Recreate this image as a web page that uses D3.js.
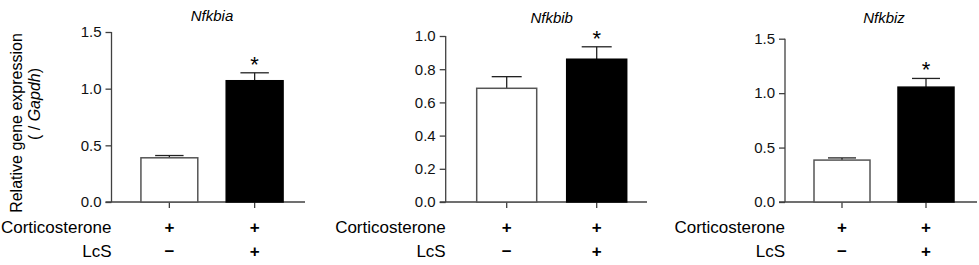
<!DOCTYPE html>
<html>
<head>
<meta charset="utf-8">
<script src="https://cdn.jsdelivr.net/npm/d3@7"></script>
<style>
  body { margin: 0; background: #fff; }
  svg { display: block; font-family: Arial, "Liberation Sans", sans-serif; }
  .axis path, .axis line { stroke: #404040; stroke-width: 1.3; }
  .axis text { font-size: 15px; fill: #111; }
</style>
</head>
<body>
<div id="chart"></div>
<script>
// ====== Relative gene expression, three panels ======

// genes shown, one per panel
var genes = ['Nfkbia', 'Nfkbib', 'Nfkbiz'];
var groups = ['Cort', 'Cort+LcS'];

// bar heights (mean) and upward error (SEM), per gene
var means = [[0.39, 1.07], [0.685, 0.86], [0.385, 1.055]];
var sems = [[0.02, 0.07], [0.07, 0.075], [0.02, 0.08]];

// axis ranges and ticks, per gene
var yMax = [1.5, 1.0, 1.5];
var yTicks = [[0, 0.5, 1.0, 1.5], [0, 0.2, 0.4, 0.6, 0.8, 1.0], [0, 0.5, 1.0, 1.5]];

// treatment rows under the bars
var cortRow = ['+', '+'];
var lcsRow = ['\u2212', '+'];
var signif = [false, true];

var width = 979, height = 265;

// panel geometry (pixels)
var panels = [
  { axisX: 111.5, top: 32, bottom: 202, span: 200, axisEnd: 305, titleY: 21 },
  { axisX: 445.7, top: 36, bottom: 202, span: 211, axisEnd: 647, titleY: 23 },
  { axisX: 785, top: 38.7, bottom: 202, span: 197, axisEnd: 977, titleY: 23 }
];

var svg = d3.select('#chart').append('svg')
  .attr('width', width)
  .attr('height', height);

genes.forEach(function(gene, gi) {
  var p = panels[gi];

  var y = d3.scaleLinear().domain([0, yMax[gi]]).range([p.bottom, p.top]);
  var x = d3.scaleBand().domain(groups)
    .range([p.axisX + 1, p.axisX + p.span])
    .paddingInner(1 / 3).paddingOuter(1 / 3);

  var g = svg.append('g').attr('class', 'panel');

  // y axis
  g.append('g')
    .attr('class', 'axis')
    .attr('transform', 'translate(' + p.axisX + ',0)')
    .call(d3.axisLeft(y).tickValues(yTicks[gi]).tickFormat(d3.format('.1f'))
      .tickSize(6).tickSizeOuter(0).tickPadding(4))
    .select('.domain').remove();

  g.append('line')
    .attr('x1', p.axisX).attr('x2', p.axisX)
    .attr('y1', p.top).attr('y2', p.bottom)
    .attr('stroke', '#404040').attr('stroke-width', 1.3);

  // x axis with ticks at the bar centres
  g.append('line')
    .attr('x1', p.axisX - 6).attr('x2', p.axisEnd)
    .attr('y1', p.bottom).attr('y2', p.bottom)
    .attr('stroke', '#404040').attr('stroke-width', 1.3);

  g.selectAll('.xtick')
    .data(groups)
    .enter().append('line')
    .attr('class', 'xtick')
    .attr('x1', function(d) { return x(d) + x.bandwidth() / 2; })
    .attr('x2', function(d) { return x(d) + x.bandwidth() / 2; })
    .attr('y1', p.bottom).attr('y2', p.bottom + 6)
    .attr('stroke', '#404040').attr('stroke-width', 1.3);

  var rows = groups.map(function(grp, i) {
    return { group: grp, mean: means[gi][i], sem: sems[gi][i], i: i };
  });

  // error bars (upward only)
  var err = g.selectAll('.err')
    .data(rows)
    .enter().append('g')
    .attr('class', 'err');

  err.append('line')
    .attr('x1', function(d) { return x(d.group) + x.bandwidth() / 2; })
    .attr('x2', function(d) { return x(d.group) + x.bandwidth() / 2; })
    .attr('y1', function(d) { return y(d.mean); })
    .attr('y2', function(d) { return y(d.mean + d.sem); })
    .attr('stroke', '#222').attr('stroke-width', 1.3);

  err.append('line')
    .attr('x1', function(d) { return x(d.group) + x.bandwidth() / 4; })
    .attr('x2', function(d) { return x(d.group) + x.bandwidth() * 3 / 4; })
    .attr('y1', function(d) { return y(d.mean + d.sem); })
    .attr('y2', function(d) { return y(d.mean + d.sem); })
    .attr('stroke', '#222').attr('stroke-width', 1.3);

  // bars
  g.selectAll('.bar')
    .data(rows)
    .enter().append('rect')
    .attr('class', 'bar')
    .attr('x', function(d) { return x(d.group); })
    .attr('width', x.bandwidth())
    .attr('y', function(d) { return y(d.mean); })
    .attr('height', function(d) { return p.bottom - y(d.mean); })
    .attr('fill', function(d) { return d.i === 0 ? '#fff' : '#000'; })
    .attr('stroke', function(d) { return d.i === 0 ? '#555' : '#000'; })
    .attr('stroke-width', 1.5);

  // significance stars
  g.selectAll('.star')
    .data(rows.filter(function(d) { return signif[d.i]; }))
    .enter().append('text')
    .attr('class', 'star')
    .attr('x', function(d) { return x(d.group) + x.bandwidth() / 2; })
    .attr('y', function(d) { return y(d.mean + d.sem) - 1; })
    .attr('text-anchor', 'middle')
    .style('font-size', '22px')
    .text('*');

  // gene title
  g.append('text')
    .attr('x', (x(groups[0]) + x(groups[1]) + x.bandwidth()) / 2)
    .attr('y', p.titleY)
    .attr('text-anchor', 'middle')
    .style('font-size', '15px')
    .style('font-style', 'italic')
    .text(gene);

  // treatment rows
  g.append('text')
    .attr('x', p.axisX).attr('y', 233)
    .attr('text-anchor', 'end')
    .style('font-size', '17px')
    .text('Corticosterone');

  g.append('text')
    .attr('x', p.axisX).attr('y', 257)
    .attr('text-anchor', 'end')
    .style('font-size', '17px')
    .text('LcS');

  [cortRow, lcsRow].forEach(function(row, ri) {
    g.selectAll('.sign' + ri)
      .data(row)
      .enter().append('text')
      .attr('class', 'sign' + ri)
      .attr('x', function(d, i) { return x(groups[i]) + x.bandwidth() / 2; })
      .attr('y', ri === 0 ? 233 : 257)
      .attr('text-anchor', 'middle')
      .style('font-size', '17px')
      .style('font-weight', 'bold')
      .text(function(d) { return d; });
  });
});

// shared y axis title
svg.append('text')
  .attr('transform', 'translate(22,123) rotate(-90)')
  .attr('text-anchor', 'middle')
  .style('font-size', '16px')
  .text('Relative gene expression');

var yt2 = svg.append('text')
  .attr('transform', 'translate(40,104) rotate(-90)')
  .attr('text-anchor', 'middle')
  .style('font-size', '16px');
yt2.append('tspan').text('( / ');
yt2.append('tspan').style('font-style', 'italic').text('Gapdh');
yt2.append('tspan').text(')');
</script>
</body>
</html>
